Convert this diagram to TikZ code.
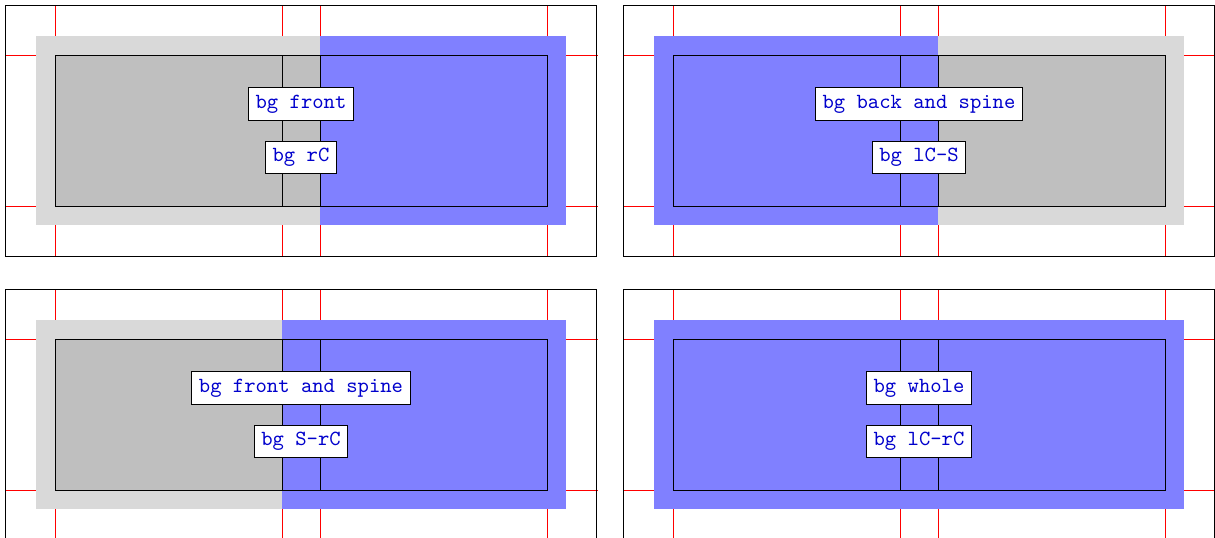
\documentclass[tikz,border=0pt]{standalone}
\newcommand\cvrpanel[7]{%
\begin{scope}[shift={(#1,#2)}]
  \draw[cropline] (55.5,5.5) -- (55.5,256.5);
  \draw[cropline] (282.5,5.5) -- (282.5,256.5);
  \draw[cropline] (320.5,5.5) -- (320.5,256.5);
  \draw[cropline] (547.5,5.5) -- (547.5,256.5);
  \draw[cropline] (5.5,55.5) -- (597.5,55.5);
  \draw[cropline] (5.5,206.5) -- (597.5,206.5);
  \fill[bleedfill] (36,36) rectangle (566,225);
  \fill[trimfill] (55,55) rectangle (547,206);
  \fill[bgfill] (#3,36) rectangle (#4,225);
  \draw[trimline] (55.5,55.5) rectangle (547.5,206.5);
  \draw[trimline] (282.5,55.5) -- (282.5,206.5) (320.5,55.5) -- (320.5,206.5);
  \draw[frame] (5.5,5.5) rectangle (596.5,256.5);
  \node[lbl] (#7a) at (301,104) {#5};
  \node[lbl] (#7b) at (301,157.5) {#6};
\end{scope}}
\begin{document}
\begin{tikzpicture}[x=0.463pt,y=-0.463pt,
  frame/.style={draw=black,line width=0.45pt},
  cropline/.style={draw=red,line width=0.55pt},
  bleedfill/.style={fill=black!15},
  trimfill/.style={fill=black!25},
  bgfill/.style={fill=blue!50},
  trimline/.style={draw=black,line width=0.45pt},
  lbl/.style={draw=black,fill=white,line width=0.45pt,font=\ttfamily,text=blue!80!black,inner sep=3.33pt}]
\useasboundingbox (0,0) rectangle (1215,538);
\begin{scope}
\clip (0,0) rectangle (1215,538);
\cvrpanel{0}{0}{320}{566}{bg front}{bg rC}{p1}
\cvrpanel{618}{0}{36}{320}{bg back and spine}{bg lC-S}{p2}
\cvrpanel{0}{284}{282}{566}{bg front and spine}{bg S-rC}{p3}
\cvrpanel{618}{284}{36}{566}{bg whole}{bg lC-rC}{p4}
\end{scope}
\end{tikzpicture}
\end{document}
